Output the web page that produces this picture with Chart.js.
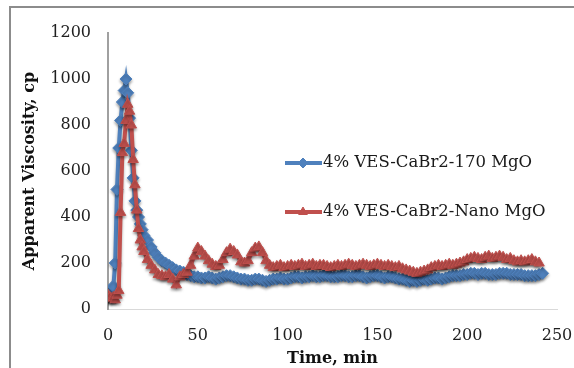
<!DOCTYPE html>
<html>
<head>
<meta charset="utf-8">
<script src="https://cdn.jsdelivr.net/npm/chart.js@4"></script>
<style>
  html, body { margin: 0; padding: 0; background: #fff; }
  #wrap { width: 574px; height: 368px; position: relative; }
</style>
</head>
<body>
<div id="wrap"><canvas id="viscChart" width="574" height="368"></canvas></div>
<script>
// time in minutes (1 min steps at start, then 2 min)
const times = [0, 1, 2, 3, 4, 5, 6, 7, 8, 9, 10, 11, 12, 13, 14, 15, 16, 17, 18, 19, 20,
  22, 24, 26, 28, 30, 32, 34, 36, 38, 40, 42, 44, 46, 48, 50, 52, 54, 56, 58, 60,
  62, 64, 66, 68, 70, 72, 74, 76, 78, 80, 82, 84, 86, 88, 90, 92, 94, 96, 98, 100,
  102, 104, 106, 108, 110, 112, 114, 116, 118, 120, 122, 124, 126, 128, 130, 132, 134, 136, 138, 140,
  142, 144, 146, 148, 150, 152, 154, 156, 158, 160, 162, 164, 166, 168, 170, 172, 174, 176, 178, 180,
  182, 184, 186, 188, 190, 192, 194, 196, 198, 200, 202, 204, 206, 208, 210, 212, 214, 216, 218, 220,
  222, 224, 226, 228, 230, 232, 234, 236, 238, 240, 242];

const visc170 = [70, 60, 50, 100, 200, 520, 700, 820, 900, 950, 1000, 940, 830, 690, 570, 470, 430, 400, 370, 345, 320,
  300, 270, 245, 225, 210, 200, 190, 180, 170, 165, 160, 150, 145, 140, 140, 135, 135, 140, 135, 130,
  135, 140, 145, 145, 140, 135, 130, 130, 125, 125, 130, 130, 125, 120, 125, 130, 130, 135, 130, 130,
  135, 140, 140, 135, 140, 140, 145, 140, 140, 145, 145, 140, 140, 140, 145, 145, 140, 140, 145, 145,
  140, 135, 140, 145, 145, 140, 135, 140, 140, 135, 130, 130, 125, 120, 125, 120, 125, 130, 125, 130,
  135, 135, 130, 135, 140, 145, 145, 145, 150, 150, 155, 155, 150, 155, 155, 150, 150, 150, 155, 155,
  155, 150, 150, 150, 150, 145, 145, 145, 145, 150, 155];

const viscNano = [60, 50, 45, 50, 40, 60, 80, 420, 680, 720, 820, 890, 860, 800, 650, 540, 430, 350, 300, 270, 250,
  215, 190, 170, 150, 145, 140, 150, 130, 105, 140, 150, 160, 190, 230, 265, 250, 230, 210, 195, 185,
  190, 215, 245, 260, 250, 235, 205, 200, 210, 245, 265, 270, 245, 210, 190, 180, 185, 190, 180, 185,
  190, 185, 190, 195, 185, 190, 195, 185, 190, 190, 185, 180, 185, 190, 185, 190, 195, 190, 185, 190,
  195, 190, 185, 190, 195, 190, 185, 190, 185, 180, 185, 175, 170, 165, 160, 155, 160, 165, 170, 180,
  185, 190, 185, 190, 195, 190, 195, 200, 205, 215, 220, 225, 220, 215, 225, 230, 220, 225, 230, 225,
  215, 220, 210, 205, 210, 205, 210, 215, 205, 200, null];

const seriesNames = ['4% VES-CaBr2-170 MgO', '4% VES-CaBr2-Nano MgO'];
const seriesColors = ['#4f81bd', '#c0504d'];
const seriesPoints = ['rectRot', 'triangle'];

const xTitle = 'Time, min';
const yTitle = 'Apparent Viscosity, cp';

function toPoints(ys) {
  return times.map((t, i) => ({ x: t, y: ys[i] }));
}

// legend drawn inside the plot, to the right
const insideLegend = {
  id: 'insideLegend',
  afterDatasetsDraw(chart) {
    const ctx = chart.ctx;
    const rows = [163, 212];
    ctx.save();
    chart.data.datasets.forEach((ds, i) => {
      const y = rows[i];
      ctx.strokeStyle = ds.borderColor;
      ctx.lineWidth = 4;
      ctx.beginPath();
      ctx.moveTo(285, y);
      ctx.lineTo(322, y);
      ctx.stroke();
      ctx.fillStyle = ds.backgroundColor;
      ctx.lineWidth = 1;
      Chart.helpers.drawPoint(ctx, {pointStyle: ds.pointStyle, radius: 5, borderWidth: 1}, 303, y);
      ctx.fillStyle = '#1a1a1a';
      ctx.font = '16.5px "DejaVu Serif"';
      ctx.textBaseline = 'middle';
      ctx.textAlign = 'left';
      ctx.fillText(seriesNames[i], 323, y);
    });
    ctx.restore();
  }
};

// soft drop shadow under the series, as in the office chart
const seriesShadow = {
  id: 'seriesShadow',
  beforeDatasetDraw(chart) {
    const c = chart.ctx;
    c.save();
    c.shadowColor = 'rgba(0,0,0,0.35)';
    c.shadowBlur = 3;
    c.shadowOffsetY = 2;
  },
  afterDatasetDraw(chart) {
    chart.ctx.restore();
  }
};

const outerFrame = {
  id: 'outerFrame',
  beforeDraw(chart) {
    const ctx = chart.ctx;
    ctx.save();
    ctx.strokeStyle = '#8c8c8c';
    ctx.lineWidth = 2;
    ctx.beginPath();
    ctx.moveTo(10, 368);
    ctx.lineTo(10, 7);
    ctx.lineTo(574, 7);
    ctx.stroke();
    ctx.restore();
  }
};

const ctx = document.getElementById('viscChart').getContext('2d');

new Chart(ctx, {
  type: 'line',
  data: {
    datasets: [
      {
        label: seriesNames[0],
        data: toPoints(visc170),
        borderColor: seriesColors[0],
        backgroundColor: seriesColors[0],
        borderWidth: 4,
        pointStyle: seriesPoints[0],
        pointRadius: 6,
        pointBorderWidth: 1,
        order: 2
      },
      {
        label: seriesNames[1],
        data: toPoints(viscNano),
        borderColor: seriesColors[1],
        backgroundColor: seriesColors[1],
        borderWidth: 4,
        pointStyle: seriesPoints[1],
        pointRadius: 6,
        pointBorderWidth: 1,
        order: 1
      }
    ]
  },
  options: {
    responsive: false,
    animation: false,
    layout: { padding: { left: 10, right: 17, top: 33, bottom: 0 } },
    plugins: {
      legend: { display: false },
      tooltip: { enabled: false }
    },
    scales: {
      x: {
        type: 'linear',
        min: 0,
        max: 250,
        grid: { display: false, drawTicks: false },
        border: { color: '#d9d9d9', width: 1 },
        ticks: {
          stepSize: 50,
          padding: 17,
          color: '#1f1f1f',
          font: { family: 'DejaVu Serif', size: 16 },
          callback: v => String(v)
        },
        title: {
          display: true,
          text: xTitle,
          color: '#111',
          padding: { top: 0, bottom: 0 },
          font: { family: 'DejaVu Serif', size: 16, weight: 'bold' }
        },
        afterFit(scale) {
          scale.height = 59;
          scale.paddingLeft = 0;
          scale.paddingRight = 0;
        }
      },
      y: {
        min: 0,
        max: 1200,
        grid: { display: false, drawTicks: false },
        border: { color: '#a0a0a0', width: 2 },
        ticks: {
          stepSize: 200,
          padding: 17,
          color: '#1f1f1f',
          font: { family: 'DejaVu Serif', size: 16 },
          callback: v => String(v)
        },
        title: {
          display: true,
          text: yTitle,
          color: '#111',
          padding: { top: 10, bottom: 0 },
          font: { family: 'DejaVu Serif', size: 16, weight: 'bold' }
        },
        afterFit(scale) { scale.width = 98; }
      }
    }
  },
  plugins: [outerFrame, seriesShadow, insideLegend]
});
</script>
</body>
</html>
